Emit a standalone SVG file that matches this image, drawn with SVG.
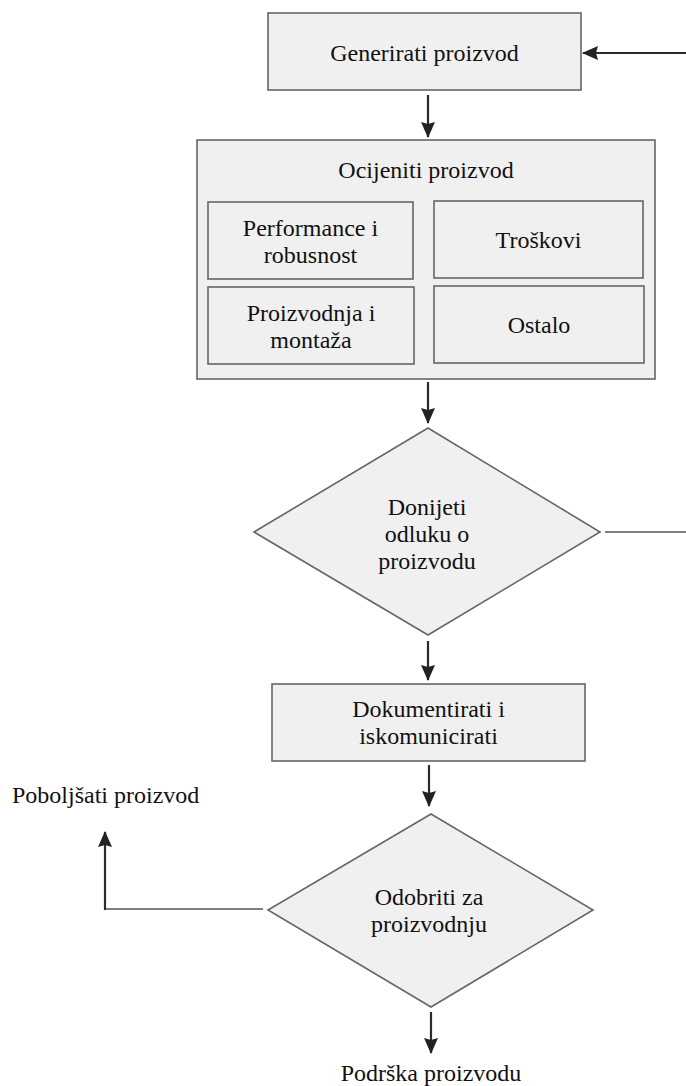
<svg xmlns="http://www.w3.org/2000/svg" width="686" height="1086" viewBox="0 0 686 1086">
<style>
.box{fill:#f0f0f0;stroke:#666;stroke-width:1.6}
.t{font-family:"Liberation Serif","Times New Roman",serif;font-size:24px;fill:#111;text-anchor:middle}
.tl{font-family:"Liberation Serif","Times New Roman",serif;font-size:24px;fill:#111}
.c{fill:none;stroke:#2b2b2b;stroke-width:2.2}
.cl{fill:none;stroke:#555;stroke-width:1.6}
</style>
<defs>
<marker id="ah" markerWidth="16" markerHeight="16" viewBox="0 0 16 16" refX="15" refY="8" orient="auto" markerUnits="userSpaceOnUse">
<path d="M0,1 L16,8 L0,15 L2,8 z" fill="#222"/>
</marker>
</defs>
<rect width="686" height="1086" fill="#fff"/>
<g id="connectors">
<path class="c" d="M686,53 L583,53" marker-end="url(#ah)"/>
<path class="c" d="M428,95 L428,137" marker-end="url(#ah)"/>
<path class="c" d="M428,382 L428,423" marker-end="url(#ah)"/>
<path class="cl" d="M605,532 L686,532"/>
<path class="c" d="M428,641 L428,680" marker-end="url(#ah)"/>
<path class="c" d="M429,765 L429,806" marker-end="url(#ah)"/>
<path class="cl" d="M263,909 L105,909 L105,850"/>
<path class="c" d="M105,910 L105,832" marker-end="url(#ah)"/>
<path class="c" d="M431,1012 L431,1053" marker-end="url(#ah)"/>
</g>
<g id="generirati">
<rect class="box" x="268" y="13" width="313" height="77"/>
<text class="t" x="424.5" y="61">Generirati proizvod</text>
</g>
<g id="ocijeniti">
<rect class="box" x="197" y="140" width="458" height="239"/>
<text class="t" x="426" y="178">Ocijeniti proizvod</text>
</g>
<g id="performance">
<rect class="box" x="208" y="202" width="205" height="77"/>
<text class="t" x="310.5" y="236">Performance i</text>
<text class="t" x="310.5" y="263">robusnost</text>
</g>
<g id="troskovi">
<rect class="box" x="434" y="201" width="209" height="77"/>
<text class="t" x="538.5" y="248">Troškovi</text>
</g>
<g id="proizvodnja">
<rect class="box" x="208" y="287" width="206" height="77"/>
<text class="t" x="311" y="321">Proizvodnja i</text>
<text class="t" x="311" y="348">montaža</text>
</g>
<g id="ostalo">
<rect class="box" x="434" y="286" width="210" height="77"/>
<text class="t" x="539" y="333">Ostalo</text>
</g>
<g id="donijeti">
<polygon class="box" points="428,428 600,532 428,635 254,532"/>
<text class="t" x="427" y="515">Donijeti</text>
<text class="t" x="427" y="542">odluku o</text>
<text class="t" x="427" y="569">proizvodu</text>
</g>
<g id="dokumentirati">
<rect class="box" x="272" y="684" width="313" height="77"/>
<text class="t" x="428.5" y="717">Dokumentirati i</text>
<text class="t" x="428.5" y="744">iskomunicirati</text>
</g>
<g id="odobriti">
<polygon class="box" points="431,814 593,910 431,1007 268,910"/>
<text class="t" x="429" y="905">Odobriti za</text>
<text class="t" x="429" y="932">proizvodnju</text>
</g>
<g id="poboljsati">
<text class="tl" x="12" y="803">Poboljšati proizvod</text>
</g>
<g id="podrska">
<text class="t" x="431" y="1081">Podrška proizvodu</text>
</g>
</svg>
